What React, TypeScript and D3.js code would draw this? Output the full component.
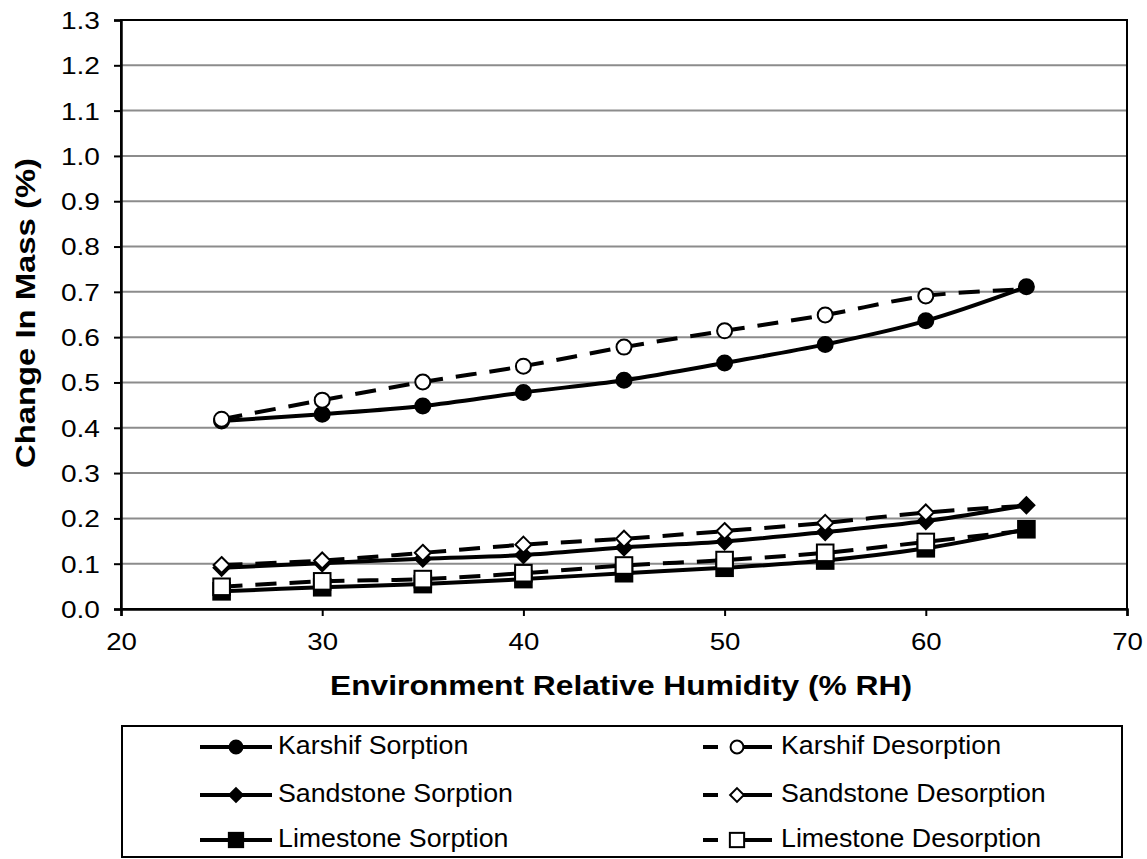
import React, { useEffect, useRef } from 'react';
import * as d3 from 'd3';

// Relative humidity steps (% RH)
const humidity = [25, 30, 35, 40, 45, 50, 55, 60, 65];

// Change in mass (%)
const karshifSorption = [0.415, 0.43, 0.448, 0.478, 0.505, 0.543, 0.584, 0.636, 0.711];
const karshifDesorption = [0.419, 0.461, 0.501, 0.536, 0.578, 0.614, 0.649, 0.691, 0.706];
const sandstoneSorption = [0.091, 0.101, 0.111, 0.119, 0.136, 0.149, 0.17, 0.194, 0.229];
const sandstoneDesorption = [0.097, 0.107, 0.124, 0.142, 0.155, 0.172, 0.19, 0.213, 0.228];
const limestoneSorption = [0.039, 0.048, 0.055, 0.066, 0.079, 0.091, 0.107, 0.134, 0.176];
const limestoneDesorption = [0.049, 0.061, 0.066, 0.079, 0.096, 0.108, 0.124, 0.148, 0.174];

const xTicks = [20, 30, 40, 50, 60, 70];
const yTicks = d3.range(0, 14).map(i => i / 10);

type Shape = 'circle' | 'diamond' | 'square';

interface Series {
  name: string;
  values: number[];
  shape: Shape;
  filled: boolean;
}

const seriesList: Series[] = [
  { name: 'Karshif Sorption', values: karshifSorption, shape: 'circle', filled: true },
  { name: 'Karshif Desorption', values: karshifDesorption, shape: 'circle', filled: false },
  { name: 'Sandstone Sorption', values: sandstoneSorption, shape: 'diamond', filled: true },
  { name: 'Sandstone Desorption', values: sandstoneDesorption, shape: 'diamond', filled: false },
  { name: 'Limestone Sorption', values: limestoneSorption, shape: 'square', filled: true },
  { name: 'Limestone Desorption', values: limestoneDesorption, shape: 'square', filled: false },
];

const FONT = 'Liberation Sans, Arial, sans-serif';

const margin = { left: 121, right: 1127, top: 20, bottom: 609 };

// draw a marker into a selection at (cx, cy)
function marker(g: d3.Selection<SVGGElement, unknown, null, undefined>, shape: Shape, filled: boolean, cx: number, cy: number, scale = 1) {
  const fill = filled ? '#000' : '#fff';
  if (shape === 'circle') {
    g.append('circle').attr('cx', cx).attr('cy', cy).attr('r', 7.5 * scale)
      .attr('fill', fill).attr('stroke', '#000').attr('stroke-width', 2);
  } else if (shape === 'diamond') {
    const s = 8 * scale;
    g.append('path')
      .attr('d', `M${cx},${cy - s}L${cx + s},${cy}L${cx},${cy + s}L${cx - s},${cy}Z`)
      .attr('fill', fill).attr('stroke', '#000').attr('stroke-width', 2);
  } else {
    const s = 8.3 * scale;
    g.append('rect').attr('x', cx - s).attr('y', cy - s).attr('width', 2 * s).attr('height', 2 * s)
      .attr('fill', fill).attr('stroke', '#000').attr('stroke-width', 2);
  }
}

// the original text is set a bit wider than Arial; stretch along the baseline
function stretch(sel: d3.Selection<any, any, any, any>, factor: number) {
  sel.each(function () {
    const t = this as SVGTextElement;
    const len = t.getComputedTextLength();
    t.setAttribute('textLength', String(len * factor));
    t.setAttribute('lengthAdjust', 'spacingAndGlyphs');
  });
}

const App: React.FC = () => {
  const svgRef = useRef<SVGSVGElement>(null);

  useEffect(() => {
    if (!svgRef.current) return;
    const svg = d3.select(svgRef.current);
    svg.selectAll('*').remove();

    const x = d3.scaleLinear().domain([20, 70]).range([margin.left, margin.right]);
    const y = d3.scaleLinear().domain([0, 1.3]).range([margin.bottom, margin.top]);

    // gridlines
    svg.append('g')
      .selectAll('line')
      .data(yTicks.slice(1))
      .join('line')
      .attr('x1', margin.left).attr('x2', margin.right)
      .attr('y1', d => y(d)).attr('y2', d => y(d))
      .attr('stroke', '#8c8c8c').attr('stroke-width', 2);

    // plot frame
    svg.append('rect')
      .attr('x', margin.left).attr('y', margin.top)
      .attr('width', margin.right - margin.left).attr('height', margin.bottom - margin.top)
      .attr('fill', 'none').attr('stroke', '#000').attr('stroke-width', 2);

    // y axis
    const yAxis = svg.append('g').attr('transform', `translate(${margin.left},0)`)
      .call(d3.axisLeft(y).tickValues(yTicks).tickFormat(d3.format('.1f')).tickSize(7).tickPadding(14));
    yAxis.select('.domain').attr('stroke-width', 2.5);
    yAxis.selectAll('line').attr('stroke-width', 2);
    const yLabels = yAxis.selectAll('text').attr('font-family', FONT).attr('font-size', 24).attr('fill', '#000')
      .attr('dy', '0.35em');
    stretch(yLabels, 1.17);

    // x axis
    const xAxis = svg.append('g').attr('transform', `translate(0,${margin.bottom})`)
      .call(d3.axisBottom(x).tickValues(xTicks).tickFormat(d3.format('d')).tickSize(7).tickPadding(10));
    xAxis.select('.domain').attr('stroke-width', 2.5);
    xAxis.selectAll('line').attr('stroke-width', 2);
    const xLabels = xAxis.selectAll('text').attr('font-family', FONT).attr('font-size', 24).attr('fill', '#000')
      .attr('y', 41).attr('dy', null);
    stretch(xLabels, 1.15);

    // axis titles
    svg.append('text')
      .attr('x', 621).attr('y', 695)
      .attr('text-anchor', 'middle')
      .attr('font-family', FONT).attr('font-size', 28).attr('font-weight', 'bold')
      .attr('textLength', 582).attr('lengthAdjust', 'spacingAndGlyphs')
      .text('Environment Relative Humidity (% RH)');

    svg.append('text')
      .attr('transform', `translate(35,313) rotate(-90)`)
      .attr('text-anchor', 'middle')
      .attr('font-family', FONT).attr('font-size', 28).attr('font-weight', 'bold')
      .attr('textLength', 310).attr('lengthAdjust', 'spacingAndGlyphs')
      .text('Change In Mass (%)');

    const line = d3.line<number>()
      .x((_, i) => x(humidity[i]))
      .y(d => y(d))
      .curve(d3.curveCatmullRom.alpha(0.5));

    const plot = svg.append('g');
    const turnX = humidity[humidity.length - 1];

    seriesList.forEach(s => {
      plot.append('path')
        .attr('d', line(s.values))
        .attr('fill', 'none')
        .attr('stroke', '#000')
        .attr('stroke-width', 4)
        .attr('stroke-dasharray', s.filled ? null : '21,13');
      const mg = plot.append('g');
      s.values.forEach((v, i) => {
        // desorption starts at the sorption end point, which keeps the filled marker
        if (!s.filled && humidity[i] === turnX) return;
        marker(mg, s.shape, s.filled, x(humidity[i]), y(v));
      });
    });

    // legend
    const legend = svg.append('g');
    legend.append('rect')
      .attr('x', 122).attr('y', 726).attr('width', 1000).attr('height', 131)
      .attr('fill', '#fff').attr('stroke', '#000').attr('stroke-width', 2);

    const rows = [747, 795, 840];
    seriesList.forEach((s, i) => {
      const row = Math.floor(i / 2);
      const cy = rows[row];
      const lg = legend.append('g');
      let label;
      if (s.filled) {
        lg.append('line').attr('x1', 200).attr('x2', 272).attr('y1', cy).attr('y2', cy)
          .attr('stroke', '#000').attr('stroke-width', 4);
        marker(lg, s.shape, true, 236, cy, 0.86);
        label = lg.append('text').attr('x', 278).attr('y', cy + 7)
          .attr('font-family', FONT).attr('font-size', 25).text(s.name);
      } else {
        lg.append('line').attr('x1', 703).attr('x2', 718).attr('y1', cy).attr('y2', cy)
          .attr('stroke', '#000').attr('stroke-width', 4);
        lg.append('line').attr('x1', 741).attr('x2', 772).attr('y1', cy).attr('y2', cy)
          .attr('stroke', '#000').attr('stroke-width', 4);
        marker(lg, s.shape, false, 737, cy, 0.86);
        label = lg.append('text').attr('x', 781).attr('y', cy + 7)
          .attr('font-family', FONT).attr('font-size', 25).text(s.name);
      }
      stretch(label, 1.07);
    });
  }, []);

  return (
    <svg ref={svgRef} width={1147} height={859} style={{ position: 'absolute', left: 0, top: 0, background: '#fff' }} />
  );
};

export default App;
